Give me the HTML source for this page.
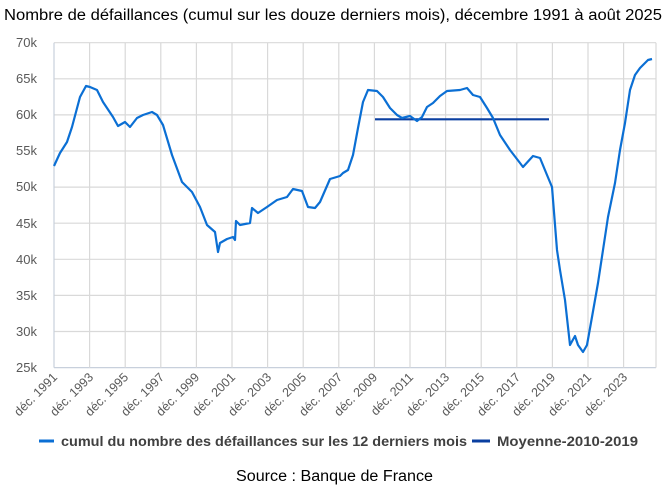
<!DOCTYPE html><html><head><meta charset="utf-8"><style>
body{margin:0;background:#fff;width:672px;height:495px;overflow:hidden;font-family:"Liberation Sans",sans-serif}
</style></head><body>
<svg width="672" height="495" xmlns="http://www.w3.org/2000/svg" font-family="Liberation Sans, sans-serif">
<text x="4" y="20" font-size="15.5" fill="#000" textLength="658" lengthAdjust="spacingAndGlyphs">Nombre de défaillances (cumul sur les douze derniers mois), décembre 1991 à août 2025</text>
<g stroke="#d9d9d9" stroke-width="1.2">
<line x1="54" y1="42.7" x2="656" y2="42.7"/><line x1="54" y1="78.8" x2="656" y2="78.8"/><line x1="54" y1="114.9" x2="656" y2="114.9"/><line x1="54" y1="151" x2="656" y2="151"/><line x1="54" y1="187.1" x2="656" y2="187.1"/><line x1="54" y1="223.2" x2="656" y2="223.2"/><line x1="54" y1="259.3" x2="656" y2="259.3"/><line x1="54" y1="295.4" x2="656" y2="295.4"/><line x1="54" y1="331.5" x2="656" y2="331.5"/><line x1="54" y1="367.6" x2="656" y2="367.6" stroke="#c8d0dc"/>
<line x1="54" y1="42.7" x2="54" y2="367.6" stroke="#c8d0dc"/>
<line x1="89.6" y1="42.7" x2="89.6" y2="367.6"/><line x1="125.2" y1="42.7" x2="125.2" y2="367.6"/><line x1="160.8" y1="42.7" x2="160.8" y2="367.6"/><line x1="196.4" y1="42.7" x2="196.4" y2="367.6"/><line x1="232" y1="42.7" x2="232" y2="367.6"/><line x1="267.6" y1="42.7" x2="267.6" y2="367.6"/><line x1="303.2" y1="42.7" x2="303.2" y2="367.6"/><line x1="338.8" y1="42.7" x2="338.8" y2="367.6"/><line x1="374.4" y1="42.7" x2="374.4" y2="367.6"/><line x1="410" y1="42.7" x2="410" y2="367.6"/><line x1="445.6" y1="42.7" x2="445.6" y2="367.6"/><line x1="481.2" y1="42.7" x2="481.2" y2="367.6"/><line x1="516.8" y1="42.7" x2="516.8" y2="367.6"/><line x1="552.4" y1="42.7" x2="552.4" y2="367.6"/><line x1="588" y1="42.7" x2="588" y2="367.6"/><line x1="623.6" y1="42.7" x2="623.6" y2="367.6"/><line x1="656" y1="42.7" x2="656" y2="367.6"/>
</g>
<g font-size="13" fill="#595959" text-anchor="end">
<text x="37" y="47">70k</text><text x="37" y="83">65k</text><text x="37" y="119">60k</text><text x="37" y="155">55k</text><text x="37" y="191">50k</text><text x="37" y="228">45k</text><text x="37" y="264">40k</text><text x="37" y="300">35k</text><text x="37" y="336">30k</text><text x="37" y="372">25k</text>
</g>
<g font-size="12.5" fill="#595959" text-anchor="end">
<text transform="translate(58,378) rotate(-45)">déc. 1991</text>
<text transform="translate(94,378) rotate(-45)">déc. 1993</text>
<text transform="translate(129,378) rotate(-45)">déc. 1995</text>
<text transform="translate(165,378) rotate(-45)">déc. 1997</text>
<text transform="translate(200,378) rotate(-45)">déc. 1999</text>
<text transform="translate(236,378) rotate(-45)">déc. 2001</text>
<text transform="translate(272,378) rotate(-45)">déc. 2003</text>
<text transform="translate(307,378) rotate(-45)">déc. 2005</text>
<text transform="translate(343,378) rotate(-45)">déc. 2007</text>
<text transform="translate(378,378) rotate(-45)">déc. 2009</text>
<text transform="translate(414,378) rotate(-45)">déc. 2011</text>
<text transform="translate(450,378) rotate(-45)">déc. 2013</text>
<text transform="translate(485,378) rotate(-45)">déc. 2015</text>
<text transform="translate(521,378) rotate(-45)">déc. 2017</text>
<text transform="translate(556,378) rotate(-45)">déc. 2019</text>
<text transform="translate(592,378) rotate(-45)">déc. 2021</text>
<text transform="translate(628,378) rotate(-45)">déc. 2023</text>
</g>
<line x1="375" y1="119.3" x2="549" y2="119.3" stroke="#0a3fa0" stroke-width="2.2"/>
<polyline fill="none" stroke="#0b6fd4" stroke-width="2.2" stroke-linejoin="round" points="54,166 60,153 67,142 72,127 80,97 86,86 90,87 97,90 103,102 113,117 118,126 125,122 130,127 137,118 143,115 152,112 157,115 163,125 172,155 182,182 192,192 200,207 207,225 215,232 218,252 220,243 227,239 233,237 235,240 236,221 240,225 250,223 252,208 258,213 267,207 277,200 287,197 293,189 302,191 308,207 315,208 320,202 330,179 340,176 343,173 348,170 353,155 358,128 363,102 368,90 377,91 383,97 390,108 397,115 402,118 410,116 417,121 422,117 427,107 433,103 440,96 447,91 460,90 467,88 473,95 480,97 487,108 493,118 500,135 510,150 520,163 523,167 533,156 540,158 547,175 552,187 557,250 560,270 565,300 570,345 575,336 578,345 583,352 587,345 592,317 598,283 603,250 608,217 615,183 620,150 625,123 630,90 635,75 640,68 648,60 652,59"/>
<line x1="39" y1="441" x2="54" y2="441" stroke="#0b6fd4" stroke-width="3"/>
<text x="61" y="446" font-size="14" font-weight="bold" fill="#404040" textLength="406" lengthAdjust="spacingAndGlyphs">cumul du nombre des défaillances sur les 12 derniers mois</text>
<line x1="472" y1="441" x2="490" y2="441" stroke="#0a3fa0" stroke-width="3"/>
<text x="497" y="446" font-size="14" font-weight="bold" fill="#404040" textLength="141" lengthAdjust="spacingAndGlyphs">Moyenne-2010-2019</text>
<text x="236" y="481" font-size="15.5" fill="#000" textLength="197" lengthAdjust="spacingAndGlyphs">Source : Banque de France</text>
</svg>
</body></html>
